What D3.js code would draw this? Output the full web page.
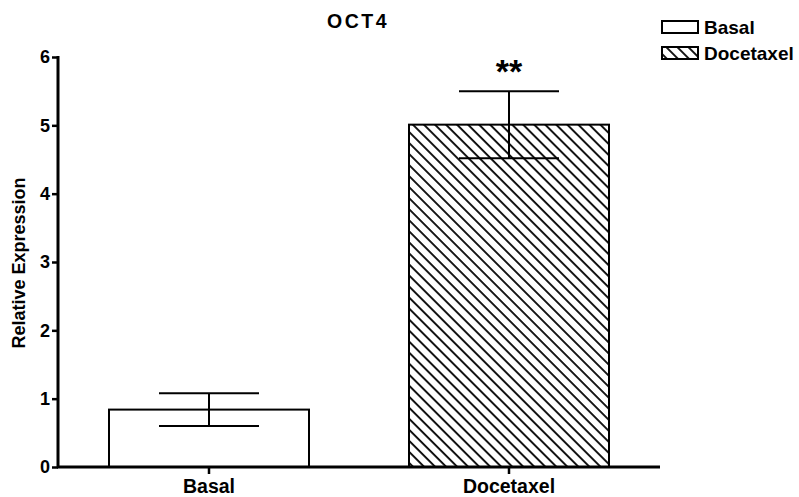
<!DOCTYPE html>
<html><head><meta charset="utf-8">
<script src="https://cdn.jsdelivr.net/npm/d3@7"></script>
<style>
html,body{margin:0;padding:0;background:#fff;}
text{font-family:"Liberation Sans",Arial,Helvetica,sans-serif;font-weight:bold;fill:#000;}
</style></head>
<body>
<svg id="chart" width="799" height="497"></svg>
<script>
const categories = ["Basal", "Docetaxel"];
const means = [0.84, 5.01];
const sems = [0.24, 0.49];
const yTicks = [0, 1, 2, 3, 4, 5, 6];
const significance = ["", "**"];
const legendLabels = ["Basal", "Docetaxel"];
const title = "OCT4";
const yLabel = "Relative Expression";

const svg = d3.select("#chart");
const defs = svg.append("defs");
const pat = defs.append("pattern").attr("id","hatch")
  .attr("patternUnits","userSpaceOnUse").attr("width",7.8).attr("height",7.8)
  .attr("patternTransform","rotate(-45)");
pat.append("rect").attr("width",7.8).attr("height",7.8).attr("fill","#fff");
pat.append("line").attr("x1",1).attr("y1",0).attr("x2",1).attr("y2",7.8)
  .attr("stroke","#000").attr("stroke-width",1.8);

const fills = ["#fff","url(#hatch)"];

const x = d3.scaleBand().domain(categories).range([59,659]).paddingInner(1/3).paddingOuter(1/6);
const y = d3.scaleLinear().domain([0,6]).range([467,57]);

// bars
svg.selectAll("rect.bar").data(categories).enter().append("rect")
  .attr("class","bar")
  .attr("x", d=>x(d)).attr("width", x.bandwidth())
  .attr("y", (d,i)=>y(means[i])).attr("height",(d,i)=>y(0)-y(means[i]))
  .attr("fill",(d,i)=>fills[i]).attr("stroke","#000").attr("stroke-width",2);

// error bars
const capW = x.bandwidth()/2;
categories.forEach((c,i)=>{
  const cx = x(c)+x.bandwidth()/2;
  const g = svg.append("g").attr("stroke","#000").attr("stroke-width",2);
  g.append("line").attr("x1",cx).attr("x2",cx).attr("y1",y(means[i]+sems[i])).attr("y2",y(means[i]-sems[i]));
  g.append("line").attr("x1",cx-capW/2).attr("x2",cx+capW/2).attr("y1",y(means[i]+sems[i])).attr("y2",y(means[i]+sems[i]));
  g.append("line").attr("x1",cx-capW/2).attr("x2",cx+capW/2).attr("y1",y(means[i]-sems[i])).attr("y2",y(means[i]-sems[i]));
  if (significance[i]) {
    svg.append("text").attr("x",cx).attr("y",y(means[i]+sems[i])-8)
      .attr("text-anchor","middle").style("font-size","34px").text(significance[i]);
  }
});

// y axis
const yAxis = svg.append("g").attr("transform","translate(58,0)")
  .call(d3.axisLeft(y).tickValues(yTicks).tickFormat(d3.format("d")).tickSize(6).tickPadding(2));
yAxis.select(".domain").attr("stroke-width",3).attr("d","M0,"+(y(6)-1)+"V"+y(0));
yAxis.selectAll(".tick line").attr("stroke-width",2.5);
yAxis.selectAll(".tick text").style("font-size","18px").style("font-family","Liberation Sans, Arial, sans-serif").style("font-weight","bold");

// x axis
const xAxis = svg.append("g").attr("transform","translate(0,467)")
  .call(d3.axisBottom(x).tickSize(7).tickPadding(5));
xAxis.select(".domain").attr("stroke-width",3).attr("d","M57,0H660");
xAxis.selectAll(".tick line").attr("stroke-width",2.5);
xAxis.selectAll(".tick text").style("font-size","19.5px").style("font-family","Liberation Sans, Arial, sans-serif").style("font-weight","bold");

// title
svg.append("text").attr("x",358).attr("y",28).attr("text-anchor","middle")
  .style("font-size","19.5px").style("letter-spacing","2.5px").text(title);

// y label
svg.append("text").attr("transform","translate(25,263) rotate(-90)")
  .attr("text-anchor","middle").style("font-size","18px").text(yLabel);

// legend
const lg = svg.append("g");
legendLabels.forEach((l,i)=>{
  const yy = 21 + i*26;
  lg.append("rect").attr("x",662).attr("y",yy).attr("width",36).attr("height",12)
    .attr("fill",fills[i]).attr("stroke","#000").attr("stroke-width",2);
  lg.append("text").attr("x",704).attr("y",yy+12.5).style("font-size","19px").text(l);
});
</script>
</body></html>
